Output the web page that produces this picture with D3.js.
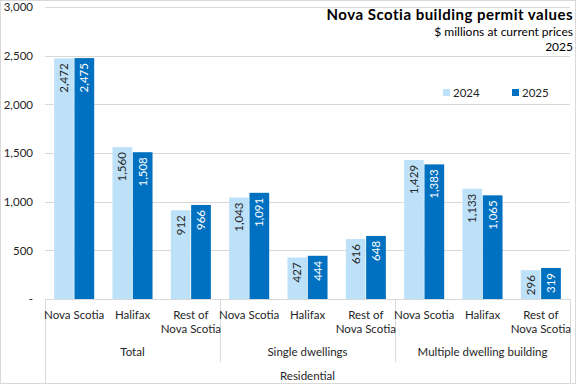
<!DOCTYPE html>
<html>
<head>
<meta charset="utf-8">
<script src="https://cdn.jsdelivr.net/npm/d3@7"></script>
<style>
  body { margin: 0; background: #fff; }
  text { font-family: Lato, "Noto Sans", sans-serif; fill: #262626; }
</style>
</head>
<body>
<div id="chart"></div>
<script>
// data
var groups = ["Total", "Single dwellings", "Multiple dwelling building"];
var places = ["Nova Scotia", "Halifax", "Rest of Nova Scotia"];
var years = ["2024", "2025"];
var values2024 = [2472, 1560, 912, 1043, 427, 616, 1429, 1133, 296];
var values2025 = [2475, 1508, 966, 1091, 444, 648, 1383, 1065, 319];
var yTicks = [0, 500, 1000, 1500, 2000, 2500, 3000];

var width = 577, height = 385;
// note: "top" is taken by window.top, so plot edges get their own names
var plotLeft = 45, plotRight = 570, plotTop = 7, plotBottom = 299;
var colors = { "2024": "#bde1f9", "2025": "#0070c0" };

var rows = [];
groups.forEach(function (g, gi) {
  places.forEach(function (p, pi) {
    var i = gi * 3 + pi;
    rows.push({ key: g + "|" + p, group: g, place: p, "2024": values2024[i], "2025": values2025[i] });
  });
});

var svg = d3.select("#chart").append("svg")
    .attr("width", width)
    .attr("height", height);

// outer border
svg.append("rect")
    .attr("x", 0.5).attr("y", 0.5)
    .attr("width", 575).attr("height", 383)
    .attr("fill", "none").attr("stroke", "#d9d9d9");

var x0 = d3.scaleBand().domain(rows.map(function (d) { return d.key; }))
    .range([plotLeft, plotRight]);
var x1 = d3.scaleBand().domain(years)
    .range([0, x0.bandwidth()]).paddingOuter(0.45).paddingInner(0.03);
var y = d3.scaleLinear().domain([0, 3000]).range([plotBottom, plotTop]);

// gridlines
svg.append("g").selectAll("line")
    .data(yTicks.filter(function (t) { return t > 0; }))
    .enter().append("line")
    .attr("x1", plotLeft).attr("x2", plotRight)
    .attr("y1", function (d) { return Math.round(y(d)) + 0.5; })
    .attr("y2", function (d) { return Math.round(y(d)) + 0.5; })
    .attr("stroke", "#d9d9d9");

// y axis labels
var yAxis = d3.axisLeft(y).tickValues(yTicks).tickSize(0).tickPadding(12)
    .tickFormat(function (d) { return d === 0 ? "-" : d3.format(",")(d); });
var ya = svg.append("g").attr("transform", "translate(" + plotLeft + ",0)").call(yAxis);
ya.select(".domain").remove();
ya.selectAll("text").style("font-size", "11.5px").attr("fill", "#262626")
    .style("font-family", "Lato, sans-serif");

// bars
var cat = svg.append("g").selectAll("g").data(rows).enter().append("g")
    .attr("transform", function (d) { return "translate(" + x0(d.key) + ",0)"; });

cat.selectAll("rect")
    .data(function (d) { return years.map(function (yr) { return { year: yr, v: d[yr] }; }); })
    .enter().append("rect")
    .attr("x", function (d) { return x1(d.year); })
    .attr("width", x1.bandwidth())
    .attr("y", function (d) { return y(d.v); })
    .attr("height", function (d) { return y(0) - y(d.v); })
    .attr("fill", function (d) { return colors[d.year]; });

cat.selectAll("text.val")
    .data(function (d) { return years.map(function (yr) { return { year: yr, v: d[yr] }; }); })
    .enter().append("text")
    .attr("class", "val")
    .attr("transform", function (d) {
      return "translate(" + (x1(d.year) + x1.bandwidth() / 2 + 4) + "," + (y(d.v) + 5) + ") rotate(-90)";
    })
    .attr("text-anchor", "end")
    .style("font-size", "11.5px")
    .style("fill", function (d) { return d.year === "2025" ? "#ffffff" : "#262626"; })
    .text(function (d) { return d3.format(",")(d.v); });

// multi level category axis
var ax = svg.append("g").attr("stroke", "#d9d9d9");
ax.append("line").attr("x1", plotLeft).attr("x2", plotRight).attr("y1", plotBottom + 0.5).attr("y2", plotBottom + 0.5);
ax.append("line").attr("x1", plotLeft + 0.5).attr("x2", plotLeft + 0.5).attr("y1", plotBottom).attr("y2", 383);
ax.append("line").attr("x1", plotRight + 0.5).attr("x2", plotRight + 0.5).attr("y1", plotBottom).attr("y2", 383);
[1, 2].forEach(function (k) {
  var xs = Math.round(x0(rows[k * 3].key)) + 0.5;
  ax.append("line").attr("x1", xs).attr("x2", xs).attr("y1", plotBottom).attr("y2", 362);
});

var catLabels = svg.append("g").selectAll("text").data(rows).enter().append("text")
    .attr("text-anchor", "middle")
    .style("font-size", "11.5px")
    .attr("x", function (d) { return x0(d.key) + x0.bandwidth() / 2; })
    .attr("y", 319);
catLabels.each(function (d) {
  var t = d3.select(this);
  if (d.place === "Rest of Nova Scotia") {
    t.append("tspan").attr("x", x0(d.key) + x0.bandwidth() / 2).attr("y", 319).text("Rest of");
    t.append("tspan").attr("x", x0(d.key) + x0.bandwidth() / 2).attr("y", 333).text("Nova Scotia");
  } else {
    t.text(d.place);
  }
});

svg.append("g").selectAll("text").data(groups).enter().append("text")
    .attr("text-anchor", "middle")
    .style("font-size", "11.5px")
    .attr("x", function (g, gi) {
      return x0(rows[gi * 3].key) + x0.bandwidth() * 1.5;
    })
    .attr("y", 356)
    .text(function (g) { return g; });

svg.append("text")
    .attr("text-anchor", "middle")
    .style("font-size", "11.5px")
    .attr("x", (plotLeft + plotRight) / 2)
    .attr("y", 380)
    .text("Residential");

// titles
svg.append("text").attr("x", 573).attr("y", 20).attr("text-anchor", "end")
    .style("font-size", "15px").style("font-weight", "bold").style("fill", "#000")
    .style("letter-spacing", "0.5px")
    .text("Nova Scotia building permit values");
svg.append("text").attr("x", 573).attr("y", 36).attr("text-anchor", "end")
    .style("font-size", "12px").style("fill", "#000")
    .text("$ millions at current prices");
svg.append("text").attr("x", 573).attr("y", 51).attr("text-anchor", "end")
    .style("font-size", "12px").style("fill", "#000")
    .text("2025");

// legend
var legX = [443, 512];
var leg = svg.append("g").selectAll("g").data(years).enter().append("g")
    .attr("transform", function (d, i) { return "translate(" + legX[i] + ",89)"; });
leg.append("rect").attr("width", 7).attr("height", 7)
    .attr("fill", function (d) { return colors[d]; });
leg.append("text").attr("x", 10).attr("y", 8)
    .style("font-size", "11.5px")
    .text(function (d) { return d; });
</script>
</body>
</html>
